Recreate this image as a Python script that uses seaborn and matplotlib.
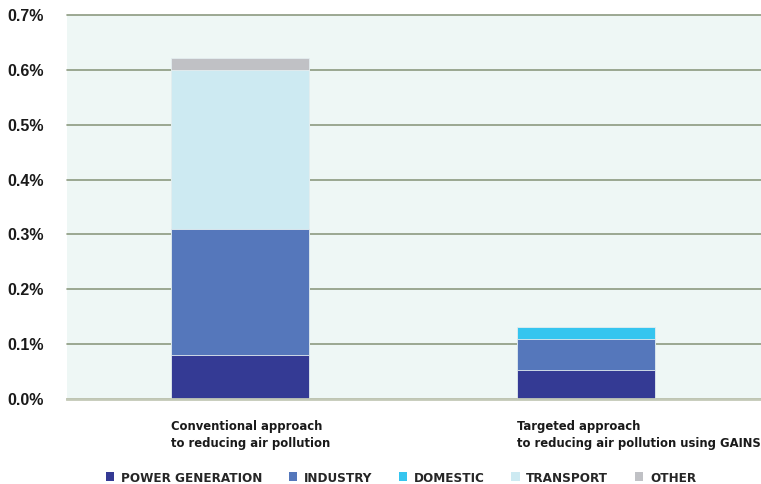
import numpy as np
import pandas as pd
import seaborn as sns
import matplotlib.pyplot as plt
from matplotlib.patches import Patch
from matplotlib.ticker import FuncFormatter

# data (share of GDP, %)
approaches = ["Conventional approach\nto reducing air pollution",
              "Targeted approach\nto reducing air pollution using GAINS"]
sectors = ["POWER GENERATION", "INDUSTRY", "DOMESTIC", "TRANSPORT", "OTHER"]
power = [0.080, 0.052]
industry = [0.230, 0.058]
domestic = [0.000, 0.022]
transport = [0.290, 0.000]
other = [0.022, 0.000]
colors = ["#343a94", "#5577bb", "#35c5ef", "#cdeaf2", "#c0c1c5"]
yticks = [0.0, 0.1, 0.2, 0.3, 0.4, 0.5, 0.6, 0.7]

sns.set_style("white")
plt.rcParams['font.family'] = ["Liberation Sans", "DejaVu Sans"]
narrow = {"family": "DejaVu Sans", "stretch": "condensed", "weight": "bold"}

df = pd.DataFrame({"approach": ["a", "b"], "POWER GENERATION": power, "INDUSTRY": industry,
                   "DOMESTIC": domestic, "TRANSPORT": transport, "OTHER": other})
cum = df[sectors].cumsum(axis=1)

fig = plt.figure(figsize=(7.61, 4.84), dpi=100)
ax = fig.add_axes([67 / 761, 1 - 399 / 484, 694 / 761, 384 / 484])
ax.set_facecolor("#eef7f5")

# stacked bars: draw cumulative totals from the top down
for n in range(len(sectors) - 1, -1, -1):
    sns.barplot(ax=ax, x=df["approach"], y=cum[sectors[n]], color=colors[n],
                width=0.4, edgecolor="#e4eef0", linewidth=0.6, saturation=1, zorder=3)

ax.set_ylim(0, 0.7)
ax.set_xlim(-0.5, 1.506)
ax.set_yticks(yticks)
ax.yaxis.set_major_formatter(FuncFormatter(lambda v, p: f"{v:.1f}%"))
ax.grid(axis="y", color="#8c9a80", linewidth=1.2, zorder=0)
for g in ax.get_ygridlines():
    g.set_clip_on(False)
ax.set_axisbelow(True)
ax.tick_params(axis="y", length=5, width=1.2, color="#8c9a80", pad=12, labelsize=11.5)
ax.yaxis.get_major_ticks()[0].tick1line.set_color("#c3c9b7")
for t in ax.get_yticklabels():
    t.set_fontweight("bold")
    t.set_color("#1a1a1a")

for s in ["top", "right", "left"]:
    ax.spines[s].set_visible(False)
ax.spines["bottom"].set_color("#c3c9b7")
ax.spines["bottom"].set_linewidth(2)
ax.spines["bottom"].set_zorder(4)

# category labels left-aligned with the bar edges
ax.set_xticks([-0.2, 0.8])
ax.set_xticklabels(approaches, ha="left", fontsize=9.3, color="#1a1a1a",
                   linespacing=1.45, **narrow)
ax.tick_params(axis="x", length=0, pad=15)
ax.set_xlabel("")
ax.set_ylabel("")

handles = [Patch(facecolor=c, edgecolor="none") for c in colors]
fig.legend(handles=handles, labels=sectors, loc="center left",
           bbox_to_anchor=(106 / 761, 1 - 478 / 484), ncol=5, frameon=False,
           borderpad=0, borderaxespad=0, handlelength=0.62, handleheight=0.62,
           handletextpad=0.5, columnspacing=2.0,
           prop={"family": "DejaVu Sans", "stretch": "condensed", "weight": "bold", "size": 9.6})

fig.savefig("out.png", dpi=100)
